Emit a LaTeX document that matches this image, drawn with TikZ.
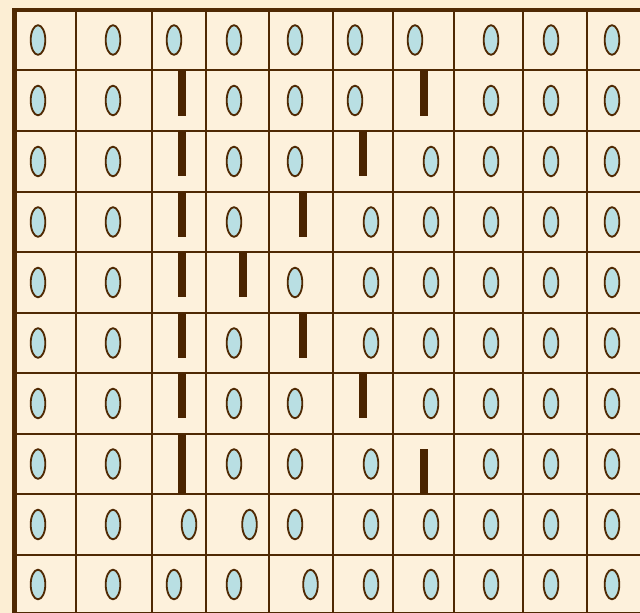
\documentclass[tikz,border=0pt]{standalone}
\usepackage{tikz}
\usepackage{xcolor}
\definecolor{vizPaper}{HTML}{FCEED4}
\definecolor{vizCell}{HTML}{FDF1DC}
\definecolor{vizLine}{HTML}{4F2903}
\definecolor{vizBar}{HTML}{4A2400}
\definecolor{vizBead}{HTML}{B9DFE3}

\begin{document}
\begin{tikzpicture}[x=0.025cm, y=-0.025cm]
  \useasboundingbox (0,0) rectangle (640,613);
  \fill[vizPaper] (0,0) rectangle (640,613);
  \fill[vizCell] (15,10) rectangle (640,613);
  % grid lines
  \foreach \gx in {76,152,206,269,333,393,454,523,587}
    \draw[vizLine, line width=2.1pt] (\gx,10) -- (\gx,614);
  \foreach \gy in {70,131,192,252,313,373,434,494,555,613}
    \draw[vizLine, line width=2.1pt] (15,\gy) -- (640,\gy);
  \draw[vizLine, line width=3.4pt] (14.5,614) -- (14.5,10) -- (640,10);
  % bars
  \foreach \bx/\btop/\bbot in {182/70/116, 182/131/176, 182/192/237, 182/252/297,
      182/313/358, 182/373/418, 182/434/494, 423.5/70/116, 423.5/449/494,
      363/131/176, 363/373/418, 302.5/192/237, 302.5/313/358, 242.5/252/297}
    \fill[vizBar] (\bx-4,\btop) rectangle (\bx+4,\bbot);
  % beads
  \foreach \cy/\xs in {
      40/{38,113,174,234,295,355,415,491,551,612},
      100.5/{38,113,234,295,355,491,551,612},
      161.5/{38,113,234,295,431,491,551,612},
      222/{38,113,234,371,431,491,551,612},
      282.5/{38,113,295,371,431,491,551,612},
      343/{38,113,234,371,431,491,551,612},
      403.5/{38,113,234,295,431,491,551,612},
      464/{38,113,234,295,371,491,551,612},
      524.5/{38,113,189,249.5,295,371,431,491,551,612},
      584.5/{38,113,174,234,310.5,371,431,491,551,612}}
    \foreach \ex in \xs
      \filldraw[fill=vizBead, draw=vizLine, line width=1.3pt]
        (\ex,\cy) ellipse [x radius=7.3, y radius=14.8];
\end{tikzpicture}
\end{document}
